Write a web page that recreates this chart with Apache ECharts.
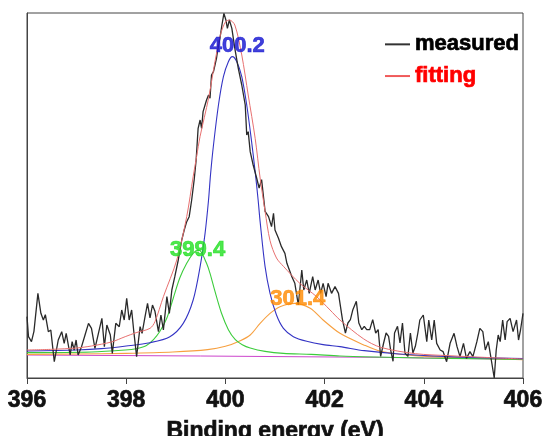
<!DOCTYPE html>
<html>
<head>
<meta charset="utf-8">
<script src="https://cdn.jsdelivr.net/npm/echarts@6/dist/echarts.min.js"></script>
<style>
html,body{margin:0;padding:0;background:#fff;}
#chart{width:543px;height:436px;}
</style>
</head>
<body>
<div id="chart"></div>
<script>
// ---- data (binding energy in eV, intensity in arbitrary units) ----
const xTicks = [396, 398, 400, 402, 404, 406];

const measuredX = [396.00,396.03,396.09,396.14,396.22,396.28,396.33,396.37,396.43,396.48,396.55,396.63,396.70,396.75,396.79,396.87,396.91,396.95,396.99,397.03,397.10,397.17,397.24,397.30,397.37,397.44,397.51,397.56,397.61,397.68,397.72,397.79,397.86,397.91,397.96,398.01,398.06,398.11,398.15,398.21,398.28,398.32,398.38,398.43,398.48,398.53,398.58,398.65,398.70,398.75,398.82,398.87,398.92,398.98,399.05,399.12,399.17,399.22,399.27,399.32,399.37,399.41,399.45,399.49,399.52,399.55,399.59,399.62,399.66,399.69,399.72,399.76,399.79,399.82,399.86,399.89,399.93,399.97,400.01,400.04,400.08,400.13,400.19,400.26,400.33,400.40,400.43,400.46,400.50,400.56,400.63,400.68,400.73,400.80,400.87,400.93,400.97,401.00,401.07,401.13,401.20,401.24,401.29,401.34,401.40,401.47,401.54,401.58,401.64,401.69,401.76,401.81,401.87,401.92,401.97,402.03,402.07,402.14,402.21,402.28,402.36,402.42,402.47,402.52,402.57,402.64,402.69,402.75,402.80,402.85,402.91,402.97,403.03,403.08,403.13,403.19,403.24,403.29,403.33,403.38,403.41,403.47,403.52,403.57,403.62,403.68,403.73,403.78,403.83,403.88,403.92,403.99,404.06,404.10,404.16,404.21,404.26,404.33,404.39,404.46,404.53,404.61,404.67,404.73,404.80,404.86,404.93,404.99,405.07,405.13,405.19,405.24,405.30,405.35,405.42,405.46,405.50,405.54,405.59,405.64,405.68,405.74,405.80,405.87,405.91,405.95,406.00];
const measuredY = [184,124,109,140,254,194,174,190,139,144,49,114,139,104,134,69,109,84,114,69,94,129,164,149,89,134,179,94,159,129,74,164,154,204,174,239,174,204,144,64,154,134,184,224,180,219,200,139,189,144,244,194,264,304,354,414,444,469,484,534,594,654,749,774,749,799,819,834,849,839,909,919,939,959,999,1019,1059,1094,1074,1049,1074,1049,989,929,879,819,729,739,679,639,600,570,595,500,484,454,494,444,419,394,374,344,324,304,284,219,324,264,294,254,304,264,294,254,284,244,284,254,274,254,175,135,165,175,205,230,165,145,155,145,145,175,135,145,65,105,135,125,85,50,135,155,105,165,75,65,135,75,95,135,174,189,109,174,114,174,104,84,79,49,104,134,94,64,104,59,79,64,109,149,139,84,109,64,0,84,129,109,174,114,169,179,139,174,114,144,194];

const fitX = [396.00,396.50,397.00,397.30,397.70,397.98,398.20,398.48,398.58,398.75,399.02,399.22,399.35,399.42,399.49,399.66,399.79,399.90,400.00,400.08,400.19,400.33,400.46,400.60,400.70,400.80,400.90,401.03,401.17,401.50,401.84,402.11,402.31,402.78,403.13,403.83,404.50,405.20,406.00];
const fitY = [84,86,90,96,108,124,136,149,169,244,354,484,604,665,725,839,949,1030,1068,1074,1059,969,849,719,600,500,412,360,335,284,244,204,174,118,92,73,67,62,57];

const peakBX = [396.00,397.00,397.50,398.00,398.48,398.88,399.15,399.35,399.49,399.59,399.66,399.70,399.76,399.86,399.96,400.06,400.14,400.23,400.33,400.43,400.52,400.60,400.66,400.70,400.80,400.90,401.03,401.17,401.37,401.64,401.97,402.31,402.80,403.50,404.50,406.00];
const peakBY = [81,84,88,96,106,124,164,234,334,434,534,610,699,819,904,949,964,949,904,819,719,619,534,469,334,254,189,149,124,110,100,94,82,72,64,58];

const peakGX = [396.00,397.30,397.98,398.20,398.40,398.55,398.68,398.82,398.95,399.08,399.22,399.35,399.44,399.49,399.62,399.69,399.78,399.92,400.06,400.20,400.34,400.50,400.80,401.17,401.73,402.31,403.00,404.00,405.00,406.00];
const peakGY = [76,78,84,88,97,115,140,180,240,300,344,374,383,382,344,314,265,195,145,115,100,90,80,74,71,66,63,60,58,56];

const peakOX = [396.00,397.00,398.00,398.94,399.64,400.00,400.30,400.50,400.70,400.90,401.10,401.40,401.71,401.97,402.31,402.78,403.13,403.83,404.88,406.00];
const peakOY = [71,72,74,78,85,95,112,129,164,194,214,224,209,174,134,100,80,67,60,55];

const baseX = [396.0, 399.5, 403.1, 406.0];
const baseY = [69, 66, 62, 56];

const peakNames = ['400.2', '399.4', '301.4'];
const peakLabelX = [400.24, 399.44, 401.46];
const peakLabelY = [997, 384, 237];

// ---- styles ----
const FONT = 'Liberation Sans, Arial, sans-serif';
const peakColors = ['#1010d0', '#22e022', '#ff8a00'];
const heavy = c => ({fontWeight: 'bold', fontFamily: FONT, textBorderColor: c, textBorderWidth: 0.7});

function zip(xs, ys) { return xs.map((x, i) => [x, ys[i]]); }

const chart = echarts.init(document.getElementById('chart'), null, {renderer: 'canvas'});
chart.setOption({
  animation: false,
  backgroundColor: '#ffffff',
  textStyle: {fontFamily: FONT},
  grid: {left: 27, right: 20, top: 13, bottom: 58, show: true, borderColor: '#444', borderWidth: 1,
    containLabel: false, outerBoundsMode: 'none'},
  legend: {
    orient: 'vertical', left: 380, top: 28, itemWidth: 25, itemHeight: 2, itemGap: 9, icon: 'rect',
    textStyle: {fontSize: 22, fontWeight: 'bold', fontFamily: FONT},
    data: [
      {name: 'measured', textStyle: Object.assign({color: '#000'}, heavy('#000'))},
      {name: 'fitting', textStyle: Object.assign({color: '#ff0000'}, heavy('#ff0000'))}
    ]
  },
  xAxis: {
    type: 'value', min: 396, max: 406, interval: 2,
    axisLine: {show: true, lineStyle: {color: '#444', width: 1}},
    axisTick: {show: true, inside: false, length: 6, lineStyle: {color: '#444'}},
    axisLabel: Object.assign({color: '#111', fontSize: 23, margin: 11, customValues: xTicks}, heavy('#111')),
    splitLine: {show: false},
    name: 'Binding energy (eV)', nameLocation: 'middle', nameGap: 42,
    nameTextStyle: Object.assign({color: '#111', fontSize: 23}, heavy('#111'))
  },
  yAxis: {
    type: 'value', min: 0, max: 1095,
    axisLine: {show: true, lineStyle: {color: '#444', width: 1}},
    axisTick: {show: false}, axisLabel: {show: false}, splitLine: {show: false}
  },
  series: [
    {name: 'baseline', type: 'line', data: zip(baseX, baseY), symbol: 'none',
     lineStyle: {color: '#cc44cc', width: 1}, z: 2},
    {name: '401.4', type: 'line', data: zip(peakOX, peakOY), symbol: 'none', smooth: 0.3,
     lineStyle: {color: '#f7a040', width: 1.1}, z: 3},
    {name: '399.4', type: 'line', data: zip(peakGX, peakGY), symbol: 'none', smooth: 0.3,
     lineStyle: {color: '#3ccc3c', width: 1.1}, z: 3},
    {name: '400.2', type: 'line', data: zip(peakBX, peakBY), symbol: 'none', smooth: 0.3,
     lineStyle: {color: '#3434c4', width: 1.1}, z: 3},
    {name: 'measured', type: 'line', data: zip(measuredX, measuredY), symbol: 'none',
     itemStyle: {color: '#333'}, lineStyle: {color: '#2a2a2a', width: 1.3}, z: 4},
    {name: 'fitting', type: 'line', data: zip(fitX, fitY), symbol: 'none', smooth: 0.3,
     itemStyle: {color: '#f05a5a'}, lineStyle: {color: '#e87070', width: 1}, z: 5},
    {name: 'labels', type: 'scatter', symbolSize: 0, silent: true, z: 6,
     data: peakNames.map((n, i) => ({name: n, value: [peakLabelX[i], peakLabelY[i]],
       label: {color: peakColors[i], textBorderColor: peakColors[i]}})),
     label: {show: true, position: 'inside', formatter: p => p.name,
       fontSize: 22, fontWeight: 'bold', fontFamily: FONT, textBorderWidth: 0.7}}
  ]
});
</script>
</body>
</html>
